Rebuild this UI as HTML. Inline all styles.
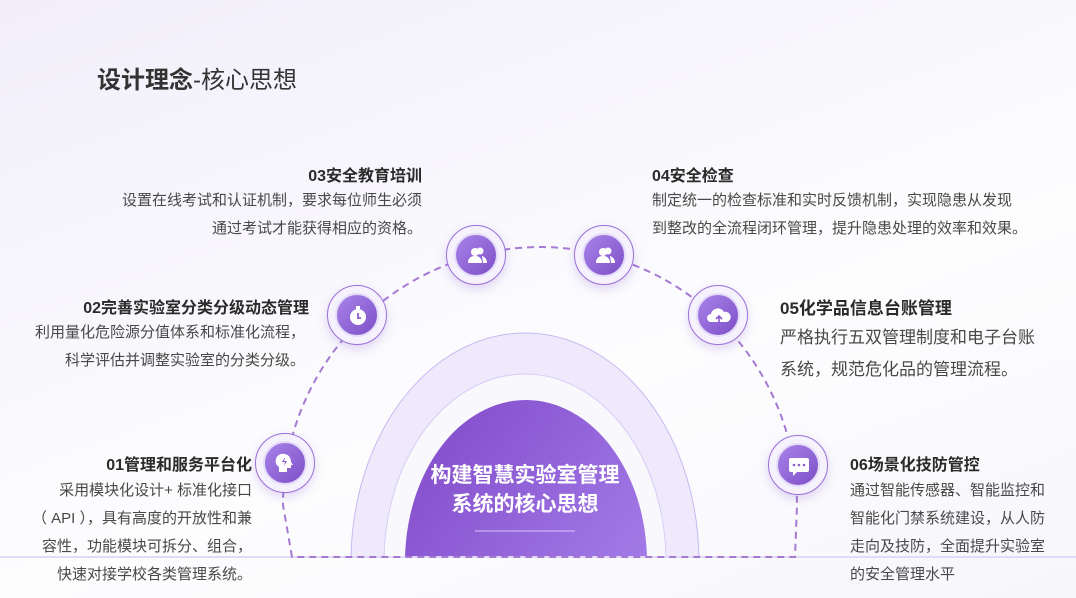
<!DOCTYPE html>
<html><head><meta charset="utf-8"><style>
*{margin:0;padding:0;box-sizing:border-box}
html,body{width:1076px;height:598px;overflow:hidden}
body{position:relative;font-family:"Liberation Sans","Noto Sans CJK SC",sans-serif;color:#333;
background:linear-gradient(160deg,#f1eefa 0%,#f8f7fc 35%,#fdfdfe 60%,#f7f6fb 100%)}
.t{position:absolute;white-space:nowrap}
.h{font-weight:bold;font-size:16px;color:#2a2a2a}
.b{font-size:15px;color:#484848;line-height:28px}
.r{text-align:right}
.icon{position:absolute;width:60px;height:60px;border-radius:50%;border:1.5px solid #9b6fd8;background:#f6f2fd;box-shadow:0 4px 10px rgba(140,100,210,.25)}
.icon i{position:absolute;left:7px;top:7px;width:44px;height:44px;border-radius:50%;background:linear-gradient(135deg,#a983ea,#7d4fc6);border:2px solid #e4dcf8}
.icon svg{position:absolute;left:10px;top:10px}
</style></head><body>
<div class="t" style="left:97px;top:60px;font-size:24px;font-weight:bold;color:#333">设计理念<span style="font-weight:normal">-核心思想</span></div>

<svg width="1076" height="598" style="position:absolute;left:0;top:0">
<defs>
<linearGradient id="pg" x1="0" y1="0" x2="1" y2="1"><stop offset="0" stop-color="#8048c8"/><stop offset="1" stop-color="#ae8cf2"/></linearGradient>
<clipPath id="cp"><rect x="0" y="0" width="1076" height="557"/></clipPath>
</defs>
<g clip-path="url(#cp)">
<ellipse cx="525" cy="562" rx="174" ry="229" fill="#efeafb" stroke="#c9b8f2" stroke-width="1"/>
<ellipse cx="525" cy="562" rx="141" ry="188" fill="#f9f8fd" stroke="#d8ccf5" stroke-width="1"/>
<ellipse cx="526" cy="562" rx="121" ry="162" fill="url(#pg)"/>
</g>
<line x1="0" y1="557" x2="1076" y2="557" stroke="#e2dbf6" stroke-width="2"/>
<line x1="475" y1="531" x2="575" y2="531" stroke="#d6c6fa" stroke-width="1"/>
<path d="M292 557 L283 505 A258 258 0 0 1 540 247 A258 258 0 0 1 797 505 L795 557 Z" fill="none" stroke="#a57ad3" stroke-width="2" stroke-dasharray="7 5"/>
</svg>
<div class="t" style="left:405px;top:461px;width:240px;text-align:center;color:#fff;font-weight:bold;font-size:21px;line-height:29px">构建智慧实验室管理<br>系统的核心思想</div>

<div class="icon" style="left:255px;top:433px"><i></i><svg width="40" height="40" viewBox="0 0 40 40"><path d="M13 28v-5c-3-2-4-5-3-8 1-4 5-6 9-5 4 1 6 4 6 8l2 3h-2v3h-4v4z" fill="#fff"/><path d="M19 13l-3 5h3l-1 4 3-5h-3z" fill="#8a5cd0"/></svg></div>
<div class="icon" style="left:327px;top:285px"><i></i><svg width="40" height="40" viewBox="0 0 40 40"><circle cx="20" cy="21" r="8" fill="#fff"/><rect x="18" y="10" width="4" height="3" fill="#fff"/><path d="M20 17v5h3" stroke="#8a5cd0" stroke-width="1.8" fill="none"/></svg></div>
<div class="icon" style="left:446px;top:225px"><i></i><svg width="40" height="40" viewBox="0 0 40 40"><circle cx="18" cy="16" r="4" fill="#fff"/><path d="M11 27c0-5 3-7 7-7s7 2 7 7z" fill="#fff"/><circle cx="23" cy="15" r="3.5" fill="#fff"/><path d="M25 20c3 1 5 3 5 7h-4z" fill="#fff"/></svg></div>
<div class="icon" style="left:574px;top:225px"><i></i><svg width="40" height="40" viewBox="0 0 40 40"><circle cx="18" cy="16" r="4" fill="#fff"/><path d="M11 27c0-5 3-7 7-7s7 2 7 7z" fill="#fff"/><circle cx="23" cy="15" r="3.5" fill="#fff"/><path d="M25 20c3 1 5 3 5 7h-4z" fill="#fff"/></svg></div>
<div class="icon" style="left:688px;top:285px"><i></i><svg width="40" height="40" viewBox="0 0 40 40"><path d="M12 26a4 4 0 0 1 0-8 7 7 0 0 1 13-2 5 5 0 0 1 3 10z" fill="#fff"/><path d="M20 27v-7m-3 3l3-3 3 3" stroke="#8a5cd0" stroke-width="1.6" fill="none"/></svg></div>
<div class="icon" style="left:768px;top:435px"><i></i><svg width="40" height="40" viewBox="0 0 40 40"><rect x="10" y="12" width="20" height="14" rx="2" fill="#fff"/><path d="M14 26v4l4-4z" fill="#fff"/><circle cx="15" cy="19" r="1.3" fill="#8a5cd0"/><circle cx="20" cy="19" r="1.3" fill="#8a5cd0"/><circle cx="25" cy="19" r="1.3" fill="#8a5cd0"/></svg></div>

<div class="t h r" style="right:654px;top:162px">03安全教育培训</div>
<div class="t b r" style="right:654px;top:187px">设置在线考试和认证机制，要求每位师生必须<br>通过考试才能获得相应的资格。</div>

<div class="t h" style="left:652px;top:162px">04安全检查</div>
<div class="t b" style="left:652px;top:187px">制定统一的检查标准和实时反馈机制，实现隐患从发现<br>到整改的全流程闭环管理，提升隐患处理的效率和效果。</div>

<div class="t h r" style="right:767px;top:294px">02完善实验室分类分级动态管理</div>
<div class="t b r" style="right:771px;top:319px">利用量化危险源分值体系和标准化流程，<br>科学评估并调整实验室的分类分级。</div>

<div class="t h" style="left:780px;top:294px;font-size:17px">05化学品信息台账管理</div>
<div class="t b" style="left:780px;top:322px;font-size:17px;line-height:32px">严格执行五双管理制度和电子台账<br>系统，规范危化品的管理流程。</div>

<div class="t h r" style="right:824px;top:451px">01管理和服务平台化</div>
<div class="t b r" style="right:824px;top:477px;line-height:28px">采用模块化设计+ 标准化接口<br>（ API ），具有高度的开放性和兼<br>容性，功能模块可拆分、组合，<br>快速对接学校各类管理系统。</div>

<div class="t h" style="left:850px;top:451px">06场景化技防管控</div>
<div class="t b" style="left:850px;top:477px;line-height:28px">通过智能传感器、智能监控和<br>智能化门禁系统建设，从人防<br>走向及技防，全面提升实验室<br>的安全管理水平</div>
</body></html>
